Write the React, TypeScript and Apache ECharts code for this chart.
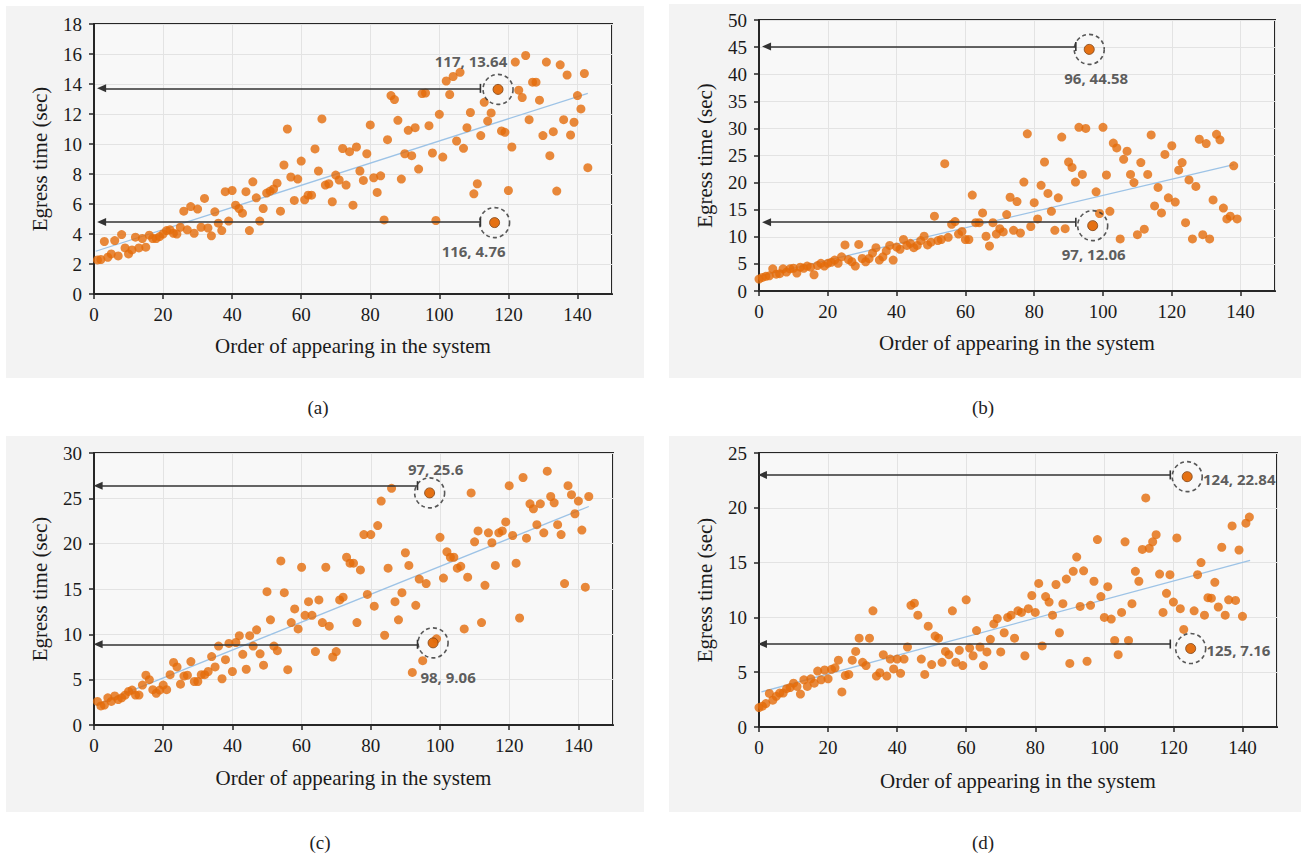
import React, { useEffect, useRef } from "react";
import * as echarts from "echarts";

// ---------- data ----------
const X_MIN = 0;
const X_MAX = 150;
const X_INTERVAL = 20;
const X_TITLE = "Order of appearing in the system";
const Y_TITLE = "Egress time (sec)";
const PANEL_LABELS = ["(a)", "(b)", "(c)", "(d)"];

const aStart = 1;
const aY = [
  2.27, 2.3, 3.5, 2.45, 2.67, 3.56, 2.54, 3.96, 3.07, 2.67,
  2.94, 3.79, 3.07, 3.7, 3.12, 3.92, 3.7, 3.7, 3.83, 4.0,
  4.23, 4.28, 4.05, 4.0, 4.45, 5.52, 4.28, 5.83, 4.05, 5.66,
  4.45, 6.37, 4.4, 3.88, 5.48, 4.72, 4.23, 6.82, 4.86, 6.9,
  5.92, 5.7, 5.39, 6.82, 4.23, 7.48, 6.41, 4.86, 5.7, 6.73,
  6.86, 7.0, 7.39, 5.52, 8.6, 11.0, 7.8, 6.24, 7.66, 8.86,
  6.28, 6.59, 6.59, 9.67, 8.2, 11.67, 7.26, 7.35, 6.15, 7.93,
  7.6, 9.7, 7.26, 9.49, 5.92, 9.8, 8.2, 7.57, 9.35, 11.27,
  7.75, 6.77, 7.88, 4.94, 10.29, 13.23, 12.96, 11.58, 7.66, 9.35,
  10.91, 9.22, 11.09, 8.33, 13.36, 13.4, 11.22, 9.4, 4.9, 11.98,
  9.13, 14.2, 13.3, 14.5, 10.2, 14.78, 9.71, 11.09, 12.1, 6.68,
  7.35, 10.56, 12.78, 11.53, 12.07, 4.76, 13.64, 10.87, 10.78, 6.9,
  9.8, 15.46, 13.59, 13.1, 15.9, 11.62, 14.12, 14.12, 12.92, 10.56,
  15.46, 9.22, 10.82, 6.86, 15.28, 11.62, 14.6, 10.6, 11.45, 13.23,
  12.34, 14.7, 8.42,
];

const bStart = 0;
const bY = [
  2.2, 2.5, 2.7, 2.8, 4.1, 3.1, 3.2, 4.1, 3.5, 4.1,
  4.2, 3.3, 4.4, 4.2, 4.6, 4.4, 3.0, 4.7, 5.1, 4.6,
  5.1, 5.3, 5.7, 5.1, 6.3, 8.5, 5.8, 5.4, 4.6, 8.6,
  6.0, 5.4, 6.0, 7.0, 8.0, 5.7, 6.3, 7.4, 8.4, 5.7,
  8.1, 7.7, 9.5, 8.4, 8.8, 8.0, 8.4, 9.3, 10.1, 8.5,
  9.0, 13.8, 9.3, 9.5, 23.5, 9.9, 12.3, 12.8, 10.5, 11.0,
  9.5, 9.5, 17.7, 12.6, 12.6, 14.4, 10.1, 8.3, 12.6, 10.5,
  11.5, 10.9, 14.1, 17.3, 11.2, 16.5, 10.7, 20.1, 29.0, 11.9,
  16.3, 13.3, 19.5, 23.8, 18.0, 14.7, 11.2, 17.2, 28.4, 11.5,
  23.8, 22.8, 20.1, 30.2, 21.5, 30.0, 44.58, 12.06, 18.3, 14.3,
  30.2, 21.4, 14.7, 27.3, 26.4, 9.6, 24.3, 25.8, 21.5, 20.0,
  10.4, 23.7, 11.4, 21.5, 28.8, 15.7, 19.1, 14.4, 25.2, 17.2,
  26.8, 16.4, 22.3, 23.7, 12.6, 20.5, 9.6, 19.3, 28.0, 10.4,
  27.2, 9.6, 16.8, 28.9, 27.9, 15.3, 13.3, 13.8, 23.1, 13.3,
];

const cStart = 1;
const cY = [
  2.6, 2.1, 2.2, 3.0, 2.6, 3.2, 2.8, 3.0, 3.3, 3.7,
  3.85, 3.3, 3.3, 4.4, 5.5, 5.0, 3.9, 3.5, 3.85, 4.4,
  3.9, 5.55, 6.9, 6.4, 4.5, 5.4, 5.5, 7.0, 4.8, 4.8,
  5.55, 5.55, 5.9, 7.55, 6.4, 8.7, 5.1, 7.2, 9.0, 5.9,
  9.1, 9.85, 7.8, 6.15, 9.85, 8.7, 10.5, 7.85, 6.6, 14.7,
  11.6, 8.7, 8.2, 18.1, 14.6, 6.1, 11.3, 12.8, 10.6, 17.4,
  12.1, 13.6, 12.1, 8.1, 13.8, 11.3, 17.4, 10.9, 7.5, 8.1,
  13.8, 14.1, 18.5, 17.85, 17.85, 11.3, 17.1, 21.0, 14.4, 21.0,
  13.1, 22.0, 24.7, 9.9, 17.3, 26.1, 13.6, 11.6, 14.6, 19.0,
  17.6, 5.8, 13.2, 16.1, 7.1, 15.6, 25.6, 9.06, 9.5, 20.7,
  16.2, 19.1, 18.5, 18.5, 17.3, 17.5, 10.6, 16.3, 25.6, 20.2,
  21.4, 11.3, 15.4, 21.2, 20.1, 17.6, 21.2, 21.4, 22.4, 26.4,
  20.9, 17.85, 11.8, 27.3, 20.6, 24.4, 23.85, 22.1, 24.4, 21.2,
  28.0, 25.2, 24.5, 22.1, 21.0, 15.6, 26.4, 25.4, 23.3, 24.7,
  21.5, 15.2, 25.2,
];

const dStart = 0;
const dY = [
  1.77, 1.9, 2.14, 3.06, 2.45, 2.8, 3.1, 3.1, 3.5, 3.6,
  4.0, 3.7, 3.0, 4.3, 3.7, 4.4, 4.0, 5.1, 4.3, 5.2,
  4.4, 5.26, 5.4, 6.1, 3.2, 4.7, 4.8, 6.1, 6.9, 8.1,
  5.9, 5.6, 8.1, 10.6, 4.65, 4.95, 6.6, 4.65, 6.2, 5.3,
  6.2, 4.9, 6.2, 7.3, 11.1, 11.3, 10.2, 6.2, 4.8, 9.2,
  5.7, 8.3, 8.1, 5.9, 6.9, 6.6, 10.6, 5.9, 7.0, 5.6,
  11.6, 7.2, 6.5, 8.8, 7.3, 5.6, 6.85, 8.0, 9.4, 9.9,
  6.85, 8.6, 10.0, 10.2, 8.1, 10.6, 10.45, 6.5, 10.8, 12.0,
  10.45, 13.1, 7.4, 11.9, 11.4, 10.2, 13.0, 8.6, 11.25, 13.5,
  5.8, 14.2, 15.5, 11.0, 14.25, 6.0, 11.1, 13.3, 17.1, 11.9,
  10.0, 12.8, 9.85, 7.9, 6.6, 10.45, 16.9, 7.9, 11.25, 14.2,
  13.3, 16.2, 20.9, 16.3, 16.9, 17.55, 13.95, 10.45, 12.2, 13.9,
  11.4, 17.25, 10.8, 8.9, 22.84, 7.16, 10.6, 13.9, 15.0, 10.2,
  11.8, 11.75, 13.2, 10.95, 16.4, 10.2, 11.6, 18.35, 11.55, 16.15,
  10.1, 18.6, 19.15,
];

// y axis ranges
const yMax = [18, 50, 30, 25];
const yInterval = [2, 5, 5, 5];

// fitted trend lines (end points)
const trendA = [[0.5, 2.85], [143, 13.38]];
const trendB = [[0, 2.7], [138, 23.3]];
const trendC = [[0.5, 2.2], [143, 24.1]];
const trendD = [[0.7, 3.2], [142.2, 15.2]];

// highlighted points [order, time]
const highlightA = [[117, 13.64], [116, 4.76]];
const highlightB = [[96, 44.58], [97, 12.06]];
const highlightC = [[97, 25.6], [98, 9.06]];
const highlightD = [[124, 22.84], [125, 7.16]];

// arrows: [level, from order, to order]
const arrowsA = [[13.71, 111.9, 2.2], [4.8, 111.9, 2.2]];
const arrowsB = [[45.1, 92.1, 2.2], [12.7, 92.1, 2.2]];
const arrowsC = [[26.4, 93.5, 1.2], [8.9, 93.5, 1.2]];
const arrowsD = [[23.0, 119.1, 1.0], [7.57, 119.1, 1.0]];

// ---------- layout / styles ----------
const GRIDS = [
  { left: 94, top: 24, width: 518, height: 270 },
  { left: 759, top: 20, width: 516, height: 271 },
  { left: 94, top: 453, width: 519, height: 272 },
  { left: 759, top: 453, width: 518, height: 274 },
];
const PANEL_BG = [
  { x: 6, y: 6, width: 638, height: 372 },
  { x: 669, y: 4, width: 632, height: 374 },
  { x: 6, y: 436, width: 638, height: 376 },
  { x: 669, y: 436, width: 632, height: 376 },
];
const PANEL_LABEL_POS = [
  [318, 407],
  [983, 407],
  [320, 842],
  [983, 842],
];
const X_NAME_GAP = [41, 41, 42, 43];
const LABEL_CFG = [
  [
    { position: "top", offset: [-27, 0] },
    { position: "bottom", offset: [-21, 0] },
  ],
  [
    { position: "bottom", offset: [7, 0] },
    { position: "bottom", offset: [1, 0] },
  ],
  [
    { position: "top", offset: [6, 4] },
    { position: "bottom", offset: [15, 6] },
  ],
  [
    { position: "right", offset: [-5, 2] },
    { position: "right", offset: [-5, 1] },
  ],
];

const SERIF = "'Liberation Serif', 'DejaVu Serif', serif";
const AXIS_DARK = "#262626";
const ORANGE = "#e36c0a";
const TREND = "#9dc3e6";

const toPairs = (ys: number[], start: number) => ys.map((y, i) => [i + start, y]);

export default function App() {
  const ref = useRef<HTMLDivElement>(null);

  useEffect(() => {
    if (!ref.current) return;
    const chart = echarts.init(ref.current, undefined, { renderer: "svg" });

    const panels = [
      { data: toPairs(aY, aStart), trend: trendA, hl: highlightA, arrows: arrowsA },
      { data: toPairs(bY, bStart), trend: trendB, hl: highlightB, arrows: arrowsB },
      { data: toPairs(cY, cStart), trend: trendC, hl: highlightC, arrows: arrowsC },
      { data: toPairs(dY, dStart), trend: trendD, hl: highlightD, arrows: arrowsD },
    ];

    const grid = GRIDS.map((g) => ({
      ...g,
      show: true,
      backgroundColor: "#f8f8f8",
      borderColor: AXIS_DARK,
      borderWidth: 2,
      containLabel: false,
    }));

    const xAxis = panels.map((_, i) => ({
      gridIndex: i,
      type: "value",
      min: X_MIN,
      max: X_MAX,
      interval: X_INTERVAL,
      name: X_TITLE,
      nameLocation: "middle",
      nameGap: X_NAME_GAP[i],
      nameTextStyle: { fontSize: 21, fontFamily: SERIF, color: "#1a1a1a" },
      axisLine: { show: true, onZero: false, lineStyle: { color: AXIS_DARK, width: 2 } },
      axisTick: { show: true, length: 5, lineStyle: { color: AXIS_DARK, width: 1.5 } },
      axisLabel: {
        showMaxLabel: false,
        margin: 11,
        fontSize: 19,
        fontFamily: SERIF,
        color: "#1a1a1a",
      },
      splitLine: { show: true, lineStyle: { color: "#e3e3e3", width: 1 } },
    }));

    const yAxis = panels.map((_, i) => ({
      gridIndex: i,
      type: "value",
      min: 0,
      max: yMax[i],
      interval: yInterval[i],
      name: Y_TITLE,
      nameLocation: "middle",
      nameGap: 44,
      nameRotate: 90,
      nameTextStyle: { fontSize: 21, fontFamily: SERIF, color: "#1a1a1a" },
      axisLine: { show: true, onZero: false, lineStyle: { color: AXIS_DARK, width: 2 } },
      axisTick: { show: true, length: 5, lineStyle: { color: AXIS_DARK, width: 1.5 } },
      axisLabel: { margin: 12, fontSize: 19, fontFamily: SERIF, color: "#1a1a1a" },
      splitLine: { show: true, lineStyle: { color: "#e3e3e3", width: 1 } },
    }));

    const series: any[] = [];
    panels.forEach((p, i) => {
      series.push({
        type: "line",
        xAxisIndex: i,
        yAxisIndex: i,
        data: p.trend,
        symbol: "none",
        showSymbol: false,
        silent: true,
        z: 2,
        lineStyle: { color: TREND, width: 1.3 },
      });
      series.push({
        type: "scatter",
        xAxisIndex: i,
        yAxisIndex: i,
        data: p.data,
        symbol: "circle",
        symbolSize: 9,
        itemStyle: { color: ORANGE },
        z: 3,
        silent: true,
        markLine: {
          silent: true,
          animation: false,
          label: { show: false },
          lineStyle: { color: "#333333", width: 1.7, type: "solid" },
          data: p.arrows.map((a) => [
            { coord: [a[1], a[0]], symbol: "rect", symbolSize: [9, 1.6] },
            { coord: [a[2], a[0]], symbol: "triangle", symbolSize: [8, 9] },
          ]),
        },
      });
      series.push({
        type: "scatter",
        xAxisIndex: i,
        yAxisIndex: i,
        silent: true,
        z: 4,
        symbol: "circle",
        symbolSize: 30,
        data: p.hl.map((v, j) => ({ value: v, label: LABEL_CFG[i][j] })),
        itemStyle: {
          color: "rgba(0,0,0,0)",
          borderColor: "#2e2e2e",
          borderWidth: 1.6,
          borderType: [4, 3],
        },
        label: {
          show: true,
          formatter: (prm: any) => `${prm.value[0]}, ${prm.value[1]}`,
          fontFamily: "'Open Sans', 'Noto Sans', sans-serif",
          fontWeight: "bold",
          fontSize: 15,
          color: "#333333",
        },
      });
      series.push({
        type: "scatter",
        xAxisIndex: i,
        yAxisIndex: i,
        silent: true,
        z: 4,
        symbol: "circle",
        symbolSize: 10,
        data: p.hl,
        itemStyle: { color: ORANGE, borderColor: "#7a3a08", borderWidth: 1 },
      });
    });

    const graphic: any[] = [];
    PANEL_BG.forEach((r) => {
      graphic.push({
        type: "rect",
        z: -10,
        silent: true,
        shape: { ...r },
        style: { fill: "#f3f3f3" },
      });
    });
    PANEL_LABELS.forEach((t, i) => {
      graphic.push({
        type: "text",
        x: PANEL_LABEL_POS[i][0],
        y: PANEL_LABEL_POS[i][1],
        silent: true,
        style: {
          text: t,
          fontSize: 19,
          fontFamily: SERIF,
          fill: "#222222",
          align: "center",
          verticalAlign: "middle",
        },
      });
    });

    chart.setOption({
      animation: false,
      backgroundColor: "#ffffff",
      grid,
      xAxis,
      yAxis,
      series,
      graphic,
    });

    return () => {
      chart.dispose();
    };
  }, []);

  return (
    <div
      ref={ref}
      style={{ position: "fixed", left: 0, top: 0, width: 1301, height: 854 }}
    />
  );
}
